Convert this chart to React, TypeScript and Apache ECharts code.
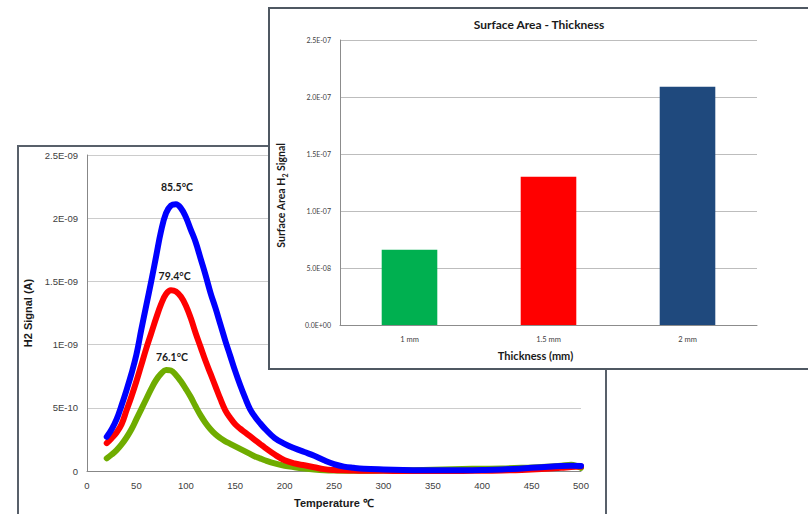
import React, { useEffect, useRef } from 'react';
import * as echarts from 'echarts';

const W = 808;
const H = 514;

// ---- Back chart: H2 signal vs temperature (signal values in units of 1E-10 A)
const temps = [20, 25, 30, 35, 40, 45, 50, 55, 60, 65, 70, 75, 80, 85, 90, 95, 100, 105, 110, 115, 120, 125, 130, 135, 140, 145, 150, 155, 160, 165, 170, 175, 180, 190, 200, 210, 220, 230, 240, 250, 260, 270, 280, 300, 320, 340, 360, 380, 400, 420, 440, 460, 480, 490, 500];
const blueSignal = [2.7, 3.3, 4.1, 5.2, 6.4, 7.7, 9.2, 11.2, 13.1, 15.0, 17.0, 19.0, 20.4, 21.0, 21.1, 20.8, 20.1, 19.1, 18.1, 16.8, 15.5, 14.1, 12.9, 11.6, 10.3, 9.1, 7.9, 6.8, 5.8, 4.9, 4.3, 3.8, 3.35, 2.6, 2.15, 1.8, 1.5, 1.2, 0.85, 0.55, 0.35, 0.25, 0.18, 0.12, 0.08, 0.06, 0.05, 0.06, 0.08, 0.12, 0.2, 0.3, 0.4, 0.42, 0.4];
const redSignal = [2.2, 2.6, 3.05, 3.7, 4.8, 5.9, 7.1, 8.4, 9.7, 10.9, 12.1, 13.2, 14.0, 14.3, 14.2, 13.8, 13.1, 12.1, 10.9, 9.8, 8.7, 7.7, 6.7, 5.7, 4.8, 4.2, 3.7, 3.35, 3.05, 2.75, 2.45, 2.15, 1.85, 1.3, 0.85, 0.6, 0.45, 0.3, 0.15, 0.08, 0.05, 0.03, 0.02, 0.01, 0.0, 0.0, 0.0, 0.0, 0.02, 0.04, 0.08, 0.15, 0.25, 0.32, 0.35];
const greenSignal = [1.0, 1.3, 1.65, 2.1, 2.65, 3.3, 4.1, 4.9, 5.7, 6.5, 7.2, 7.7, 8.0, 7.95, 7.6, 7.1, 6.5, 5.85, 5.1, 4.4, 3.8, 3.3, 2.9, 2.6, 2.35, 2.15, 1.95, 1.75, 1.55, 1.35, 1.15, 1.0, 0.85, 0.6, 0.42, 0.3, 0.2, 0.12, 0.06, 0.03, 0.02, 0.02, 0.02, 0.03, 0.05, 0.08, 0.12, 0.16, 0.18, 0.2, 0.25, 0.32, 0.42, 0.5, 0.25];
const SIGNAL_UNIT = 1e-10;
const signalTickLabels = ['0', '5E-10', '1E-09', '1.5E-09', '2E-09', '2.5E-09'];
const peakLabels = [
  { text: '85.5°C', t: 91, v: 22.45, series: 'blue' },
  { text: '79.4°C', t: 88.7, v: 15.4, series: 'red' },
  { text: '76.1°C', t: 86, v: 9.05, series: 'green' },
];

// ---- Front chart: surface area vs thickness
const thickness = ['1 mm', '1.5 mm', '2 mm'];
const surfaceArea = [6.6e-8, 1.3e-7, 2.09e-7];
const barColors = ['#00b050', '#ff0000', '#1f497d'];
const areaTickLabels = ['0.0E+00', '5.0E-08', '1.0E-07', '1.5E-07', '2.0E-07', '2.5E-07'];

const lineColors: Record<string, string> = { blue: '#0000ff', red: '#ff0000', green: '#6fac00' };
const seriesValues: Record<string, number[]> = { blue: blueSignal, red: redSignal, green: greenSignal };

function lineSeries(key: string) {
  const vals = seriesValues[key];
  const peaks = peakLabels.filter((p) => p.series === key);
  return {
    type: 'line',
    name: key,
    data: temps.map((t, i) => [t, vals[i] * SIGNAL_UNIT]),
    smooth: 0.4,
    showSymbol: false,
    symbol: 'none',
    lineStyle: { color: lineColors[key], width: 6, cap: 'round', join: 'round' },
    itemStyle: { color: lineColors[key] },
    markPoint: {
      symbol: 'circle',
      symbolSize: 1,
      itemStyle: { color: 'rgba(0,0,0,0)' },
      label: {
        show: true,
        position: 'inside',
        formatter: (p: any) => p.name,
        fontFamily: 'Lato',
        fontWeight: 'bold',
        fontSize: 10.5,
        color: '#1a1a1a',
      },
      data: peaks.map((p) => ({ name: p.text, coord: [p.t, p.v * SIGNAL_UNIT] })),
    },
  };
}

function backOption() {
  return {
    animation: false,
    graphic: [
      {
        type: 'rect',
        silent: true,
        shape: { x: 18, y: 146, width: 588, height: 420 },
        style: { fill: 'none', stroke: '#58606a', lineWidth: 2 },
      },
    ],
    grid: { left: 87, top: 155, width: 494, height: 316 },
    xAxis: {
      type: 'value',
      min: 0,
      max: 500,
      interval: 50,
      axisLine: { show: true, lineStyle: { color: '#878787', width: 1 } },
      axisTick: { show: false },
      splitLine: { show: false },
      axisLabel: { fontFamily: 'Liberation Sans', fontSize: 9.5, color: '#404040', margin: 9 },
      name: 'Temperature ℃',
      nameLocation: 'middle',
      nameGap: 26,
      nameTextStyle: { fontFamily: 'Liberation Sans', fontWeight: 'bold', fontSize: 11, color: '#1a1a1a' },
    },
    yAxis: {
      type: 'value',
      min: 0,
      max: 2.5e-9,
      interval: 5e-10,
      axisLine: { show: true, lineStyle: { color: '#878787', width: 1 } },
      axisTick: { show: false },
      splitLine: { show: true, lineStyle: { color: '#cccccc', width: 1 } },
      axisLabel: {
        fontFamily: 'Liberation Sans',
        fontSize: 9.5,
        color: '#404040',
        margin: 9,
        formatter: (v: number) => signalTickLabels[Math.round(v / 5e-10)] ?? '',
      },
      name: 'H2 Signal (A)',
      nameLocation: 'middle',
      nameGap: 49,
      nameTextStyle: { fontFamily: 'Liberation Sans', fontWeight: 'bold', fontSize: 11, color: '#1a1a1a' },
    },
    series: [lineSeries('green'), lineSeries('red'), lineSeries('blue')],
  };
}

function frontOption() {
  return {
    animation: false,
    graphic: [
      {
        type: 'rect',
        silent: true,
        z: -10,
        shape: { x: 269, y: 8, width: 560, height: 361 },
        style: { fill: '#ffffff', stroke: '#4f5862', lineWidth: 2 },
      },
      {
        type: 'text',
        silent: true,
        z: 10,
        x: 539,
        y: 24,
        style: {
          text: 'Surface Area - Thickness',
          fontFamily: 'Lato',
          fontWeight: 'bold',
          fontSize: 12,
          fill: '#1a1a1a',
          align: 'center',
          verticalAlign: 'middle',
        },
      },
    ],
    grid: { left: 340, top: 40, width: 417, height: 285 },
    xAxis: {
      type: 'category',
      data: thickness,
      axisLine: { show: true, lineStyle: { color: '#8c8c8c', width: 1 } },
      axisTick: { show: false },
      axisLabel: { fontFamily: 'Lato', fontSize: 7.5, color: '#404040', margin: 10 },
      name: 'Thickness (mm)',
      nameLocation: 'middle',
      nameGap: 25,
      nameTextStyle: {
        fontFamily: 'Lato',
        fontWeight: 'bold',
        fontSize: 11,
        color: '#1a1a1a',
        padding: [0, 26, 0, 0],
      },
    },
    yAxis: {
      type: 'value',
      min: 0,
      max: 2.5e-7,
      interval: 5e-8,
      axisLine: { show: true, lineStyle: { color: '#8c8c8c', width: 1 } },
      axisTick: { show: false },
      splitLine: { show: true, lineStyle: { color: '#bdbdbd', width: 1 } },
      axisLabel: {
        fontFamily: 'Lato',
        fontSize: 7,
        color: '#404040',
        margin: 9,
        formatter: (v: number) => areaTickLabels[Math.round(v / 5e-8)] ?? '',
      },
      name: 'Surface Area H{sub|2} Signal',
      nameLocation: 'middle',
      nameGap: 52,
      nameTextStyle: {
        fontFamily: 'Lato',
        fontWeight: 'bold',
        fontSize: 10.5,
        color: '#1a1a1a',
        lineHeight: 14,
        padding: [0, 26, 0, 0],
        rich: {
          sub: {
            fontFamily: 'Lato',
            fontWeight: 'bold',
            fontSize: 7,
            lineHeight: 8,
            color: '#1a1a1a',
            verticalAlign: 'bottom',
          },
        },
      },
    },
    series: [
      {
        type: 'bar',
        data: surfaceArea.map((v, i) => ({ value: v, itemStyle: { color: barColors[i] } })),
        barWidth: '40%',
      },
    ],
  };
}

export default function App() {
  const backRef = useRef<HTMLDivElement>(null);
  const frontRef = useRef<HTMLDivElement>(null);

  useEffect(() => {
    if (!backRef.current || !frontRef.current) return;
    const back = echarts.init(backRef.current, undefined, { renderer: 'svg', width: W, height: H });
    back.setOption(backOption() as any);
    const front = echarts.init(frontRef.current, undefined, { renderer: 'svg', width: W, height: H });
    front.setOption(frontOption() as any);
    return () => {
      back.dispose();
      front.dispose();
    };
  }, []);

  return (
    <div style={{ position: 'absolute', left: 0, top: 0, width: W, height: H, overflow: 'hidden', background: '#ffffff' }}>
      <div ref={backRef} style={{ position: 'absolute', left: 0, top: 0, width: W, height: H }} />
      <div ref={frontRef} style={{ position: 'absolute', left: 0, top: 0, width: W, height: H }} />
    </div>
  );
}
